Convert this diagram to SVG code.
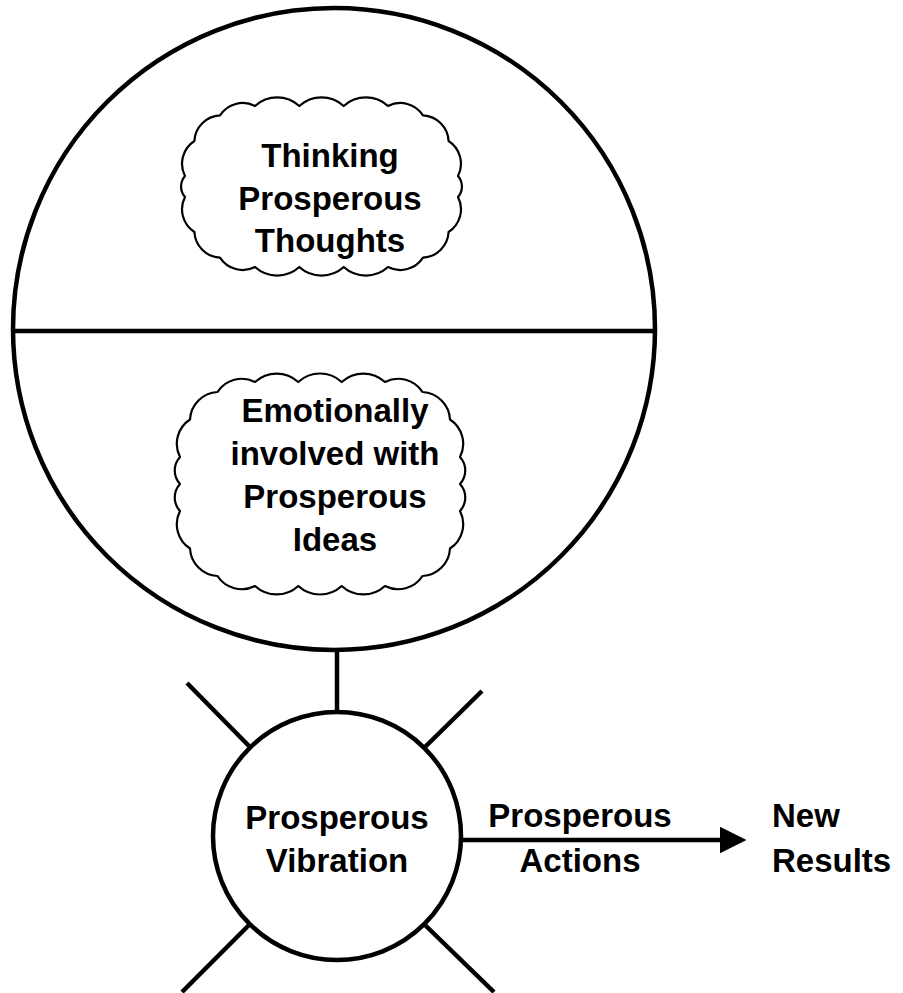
<svg xmlns="http://www.w3.org/2000/svg" width="903" height="993" viewBox="0 0 903 993">
<style>
.ln{fill:none;stroke:#000;stroke-width:4.5}
.cl{fill:#fff;stroke:#000;stroke-width:2.2;stroke-linejoin:round}
.t{font-family:"Liberation Sans",Arial,sans-serif;font-weight:bold;font-size:33px;fill:#000}
.m{text-anchor:middle}
</style>
<defs>
<marker id="ah" markerWidth="6" markerHeight="6" refX="5" refY="3" orient="auto" markerUnits="strokeWidth">
<path d="M0,0 L6,3 L0,6 Z" fill="#000"/>
</marker>
</defs>
<rect width="903" height="993" fill="#fff"/>
<g id="big-circle">
<circle class="ln" cx="334" cy="329" r="321" fill="#fff"/>
<line class="ln" x1="13" y1="331" x2="655" y2="331"/>
</g>
<g id="cloud-thoughts">
<path class="cl" d="M255,106 A33,33 0 0 1 299.3,106 A33,33 0 0 1 343.7,106 A33,33 0 0 1 388,106 A27,27 0 0 1 423,115.4 A27,27 0 0 1 448.6,141 A27,27 0 0 1 458,176 A16,16 0 0 1 458,197 A27,27 0 0 1 448.6,232 A27,27 0 0 1 423,257.6 A27,27 0 0 1 388,267 A33,33 0 0 1 343.7,267 A33,33 0 0 1 299.3,267 A33,33 0 0 1 255,267 A27,27 0 0 1 220,257.6 A27,27 0 0 1 194.4,232 A27,27 0 0 1 185,197 A16,16 0 0 1 185,176 A27,27 0 0 1 194.4,141 A27,27 0 0 1 220,115.4 A27,27 0 0 1 255,106 Z"/>
<text class="t m" x="330" y="167">Thinking</text>
<text class="t m" x="330" y="210">Prosperous</text>
<text class="t m" x="330" y="252">Thoughts</text>
</g>
<g id="cloud-ideas">
<path class="cl" d="M255,382 A32,32 0 0 1 298.3,382 A32,32 0 0 1 341.7,382 A32,32 0 0 1 385,382 A29,29 0 0 1 422.5,392 A29,29 0 0 1 450,419.5 A29,29 0 0 1 460,457 A20,20 0 0 1 460,484 A20,20 0 0 1 460,511 A29,29 0 0 1 450,548.5 A29,29 0 0 1 422.5,576 A29,29 0 0 1 385,586 A32,32 0 0 1 341.7,586 A32,32 0 0 1 298.3,586 A32,32 0 0 1 255,586 A29,29 0 0 1 217.5,576 A29,29 0 0 1 190,548.5 A29,29 0 0 1 180,511 A20,20 0 0 1 180,484 A20,20 0 0 1 180,457 A29,29 0 0 1 190,419.5 A29,29 0 0 1 217.5,392 A29,29 0 0 1 255,382 Z"/>
<text class="t m" x="335" y="422">Emotionally</text>
<text class="t m" x="335" y="465">involved with</text>
<text class="t m" x="335" y="508">Prosperous</text>
<text class="t m" x="335" y="551">Ideas</text>
</g>
<g id="connectors">
<line class="ln" x1="337" y1="650" x2="337" y2="712"/>
<line class="ln" x1="462" y1="840" x2="742" y2="840" marker-end="url(#ah)"/>
</g>
<g id="vibration">
<line class="ln" x1="187" y1="683" x2="249" y2="746"/>
<line class="ln" x1="482" y1="691" x2="425" y2="747"/>
<line class="ln" x1="249" y1="925" x2="182" y2="992"/>
<line class="ln" x1="425" y1="925" x2="494" y2="992"/>
<circle class="ln" cx="337" cy="836" r="124" fill="#fff"/>
<text class="t m" x="337" y="829">Prosperous</text>
<text class="t m" x="337" y="872">Vibration</text>
</g>
<g id="label-actions">
<text class="t m" x="580" y="827">Prosperous</text>
<text class="t m" x="580" y="872">Actions</text>
</g>
<g id="new-results">
<text class="t" x="772" y="827">New</text>
<text class="t" x="772" y="872">Results</text>
</g>
</svg>
